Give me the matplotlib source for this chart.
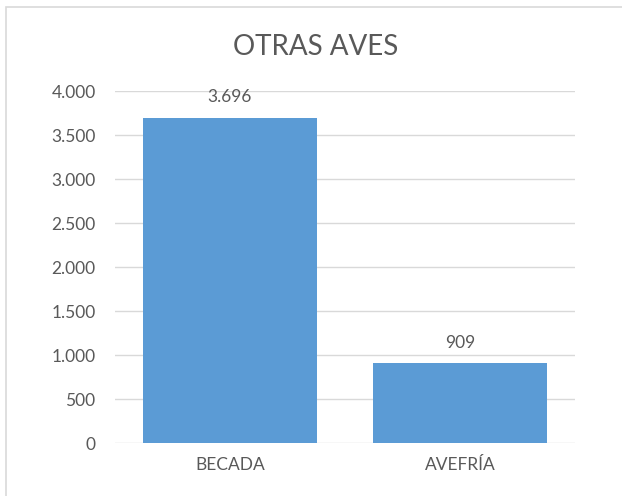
import matplotlib
matplotlib.use("Agg")
import matplotlib.pyplot as plt
from matplotlib.patches import Rectangle
from matplotlib.ticker import FuncFormatter

categories = ["BECADA", "AVEFRÍA"]
values = [3696, 909]
yticks = [0, 500, 1000, 1500, 2000, 2500, 3000, 3500, 4000]

def fmt(v):
    return f"{int(v):,}".replace(",", ".")

plt.rcParams['font.family'] = ['Lato', 'DejaVu Sans']
txt = "#595959"

fig = plt.figure(figsize=(6.22, 4.96), dpi=100)
fig.patches.append(Rectangle((6/622, -0.1), 2, 1 - 7/496 + 0.1, transform=fig.transFigure,
                             fill=False, edgecolor="#D9D9D9", linewidth=1.2))
ax = fig.add_axes([115/622, 1 - 443/496, 460/622, 352/496])
x = list(range(len(categories)))
ax.bar(x, values, width=0.76, color="#5B9BD5", zorder=3)
ax.set_xlim(-0.5, 1.5)
ax.set_ylim(0, 4000)
ax.set_yticks(yticks)
ax.yaxis.set_major_formatter(FuncFormatter(lambda v, p: fmt(v)))
ax.set_xticks(x)
ax.set_xticklabels(categories)
ax.grid(axis="y", color="#D9D9D9", linewidth=1, zorder=0)
for s in ax.spines.values():
    s.set_visible(False)
ax.tick_params(length=0, labelsize=12.5, colors=txt)
ax.tick_params(axis="y", pad=14)
ax.tick_params(axis="x", pad=10)
for xi, v in zip(x, values):
    ax.annotate(fmt(v), (xi, v), xytext=(0, 9), textcoords="offset points",
                ha="center", va="bottom", fontsize=12.5, color=txt)
fig.text(0.507, 1 - 47/496, "OTRAS AVES", ha="center", va="center", fontsize=20,
         color=txt, fontweight="normal")
fig.savefig("out.png", dpi=100)
